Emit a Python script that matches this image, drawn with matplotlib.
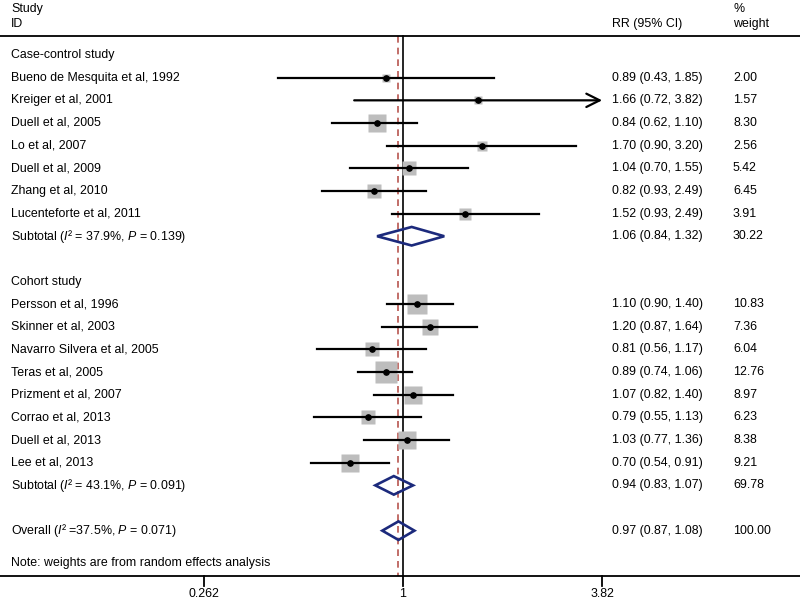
import numpy as np
import matplotlib
matplotlib.use("Agg")
import matplotlib.pyplot as plt
from matplotlib.patches import Polygon

plt.rcParams['font.family'] = 'Liberation Sans'
plt.rcParams['mathtext.fontset'] = 'custom'
plt.rcParams['mathtext.rm'] = 'Liberation Sans'
plt.rcParams['mathtext.it'] = 'Liberation Sans:italic'

# study rows: label, RR, lower, upper, weight
cc_labels = ["Bueno de Mesquita et al, 1992", "Kreiger et al, 2001", "Duell et al, 2005",
             "Lo et al, 2007", "Duell et al, 2009", "Zhang et al, 2010", "Lucenteforte et al, 2011"]
cc_rr = [0.89, 1.66, 0.84, 1.70, 1.04, 0.82, 1.52]
cc_lo = [0.43, 0.72, 0.62, 0.90, 0.70, 0.58, 0.93]
cc_hi = [1.85, 3.82, 1.10, 3.20, 1.55, 1.17, 2.49]
cc_w = [2.00, 1.57, 8.30, 2.56, 5.42, 6.45, 3.91]
# the printed CI for Zhang differs from the plotted one
cc_text = ["0.89 (0.43, 1.85)", "1.66 (0.72, 3.82)", "0.84 (0.62, 1.10)", "1.70 (0.90, 3.20)",
           "1.04 (0.70, 1.55)", "0.82 (0.93, 2.49)", "1.52 (0.93, 2.49)"]

co_labels = ["Persson et al, 1996", "Skinner et al, 2003", "Navarro Silvera et al, 2005",
             "Teras et al, 2005", "Prizment et al, 2007", "Corrao et al, 2013",
             "Duell et al, 2013", "Lee et al, 2013"]
co_rr = [1.10, 1.20, 0.81, 0.89, 1.07, 0.79, 1.03, 0.70]
co_lo = [0.90, 0.87, 0.56, 0.74, 0.82, 0.55, 0.77, 0.54]
co_hi = [1.40, 1.64, 1.17, 1.06, 1.40, 1.13, 1.36, 0.91]
co_w = [10.83, 7.36, 6.04, 12.76, 8.97, 6.23, 8.38, 9.21]

pooled_labels = ["Subtotal ($I$² = 37.9%, $P$ = 0.139)",
                 "Subtotal ($I$² = 43.1%, $P$ = 0.091)",
                 "Overall ($I$² =37.5%, $P$ = 0.071)"]
pooled_rr = [1.06, 0.94, 0.97]
pooled_lo = [0.84, 0.83, 0.87]
pooled_hi = [1.32, 1.07, 1.08]
pooled_w = [30.22, 69.78, 100.00]

xticks = [0.262, 1, 3.82]
xticklabels = ["0.262", "1", "3.82"]

fig = plt.figure(figsize=(8, 6.02), dpi=100)
ax = fig.add_axes([0, 0, 1, 1])
ax.set_xscale("log")
ax.set_xlim(np.exp(-403 / 148.6), np.exp(397 / 148.6))
ax.set_ylim(24.15, -2.43)
ax.axis("off")

tr = ax.get_yaxis_transform()  # x in axes fraction, y in rows
fs = 8.9
xl, xrr, xw = 11 / 800, 612 / 800, 733 / 800


def study(row, label, rr, lo, hi, w, txt=None):
    ax.plot(rr, row, "s", ms=4.25 * np.sqrt(w), color="#bdbdbd", mec="none", zorder=2)
    if hi >= xticks[-1]:
        ax.annotate("", xy=(xticks[-1], row), xytext=(lo, row),
                    arrowprops=dict(arrowstyle="->", lw=1.6, color="black",
                                    mutation_scale=24, shrinkA=0, shrinkB=0), zorder=3)
    else:
        ax.plot([lo, hi], [row, row], color="black", lw=1.6, zorder=3)
    ax.plot(rr, row, "o", ms=3.8, color="black", zorder=4)
    ax.text(xl, row, label, transform=tr, fontsize=fs, va="center")
    if txt is None:
        txt = "%.2f (%.2f, %.2f)" % (rr, lo, hi)
    ax.text(xrr, row, txt, transform=tr, fontsize=fs, va="center")
    ax.text(xw, row, "%.2f" % w, transform=tr, fontsize=fs, va="center")


def pooled(row, label, rr, lo, hi, w):
    d = Polygon([(lo, row), (rr, row - 0.41), (hi, row), (rr, row + 0.41)], closed=True,
                fill=False, ec="#1c2a7c", lw=1.9, zorder=4)
    ax.add_patch(d)
    ax.text(xl, row, label, transform=tr, fontsize=fs, va="center")
    ax.text(xrr, row, "%.2f (%.2f, %.2f)" % (rr, lo, hi), transform=tr, fontsize=fs, va="center")
    ax.text(xw, row, "%.2f" % w, transform=tr, fontsize=fs, va="center")


# headers
ax.text(xl, -2.05, "Study", transform=tr, fontsize=fs, va="center")
ax.text(xl, -1.37, "ID", transform=tr, fontsize=fs, va="center")
ax.text(xrr, -1.37, "RR (95% CI)", transform=tr, fontsize=fs, va="center")
ax.text(xw, -2.05, "%", transform=tr, fontsize=fs, va="center")
ax.text(xw, -1.37, "weight", transform=tr, fontsize=fs, va="center")
ax.axhline(-0.84, color="black", lw=1.3)

ax.text(xl, 0, "Case-control study", transform=tr, fontsize=fs, va="center")
for i in range(len(cc_labels)):
    study(1 + i, cc_labels[i], cc_rr[i], cc_lo[i], cc_hi[i], cc_w[i], cc_text[i])
pooled(8, pooled_labels[0], pooled_rr[0], pooled_lo[0], pooled_hi[0], pooled_w[0])

ax.text(xl, 10, "Cohort study", transform=tr, fontsize=fs, va="center")
for i in range(len(co_labels)):
    study(11 + i, co_labels[i], co_rr[i], co_lo[i], co_hi[i], co_w[i])
pooled(19, pooled_labels[1], pooled_rr[1], pooled_lo[1], pooled_hi[1], pooled_w[1])
pooled(21, pooled_labels[2], pooled_rr[2], pooled_lo[2], pooled_hi[2], pooled_w[2])

ax.text(xl, 22.43, "Note: weights are from random effects analysis", transform=tr,
        fontsize=fs, va="center")

# reference lines
ax.plot([1, 1], [-0.84, 23.0], color="black", lw=1.2, zorder=1)
ax.plot([pooled_rr[2]] * 2, [-0.84, 23.0], color="#b8554f", lw=1.2, ls=(0, (4, 3)), zorder=1)

# x axis
ax.axhline(23.0, color="black", lw=1.3)
for t, lab in zip(xticks, xticklabels):
    ax.plot([t, t], [23.0, 23.45], color="black", lw=1.3)
    ax.text(t, 23.78, lab, fontsize=fs, ha="center", va="center")

plt.savefig("out.png", dpi=100)
